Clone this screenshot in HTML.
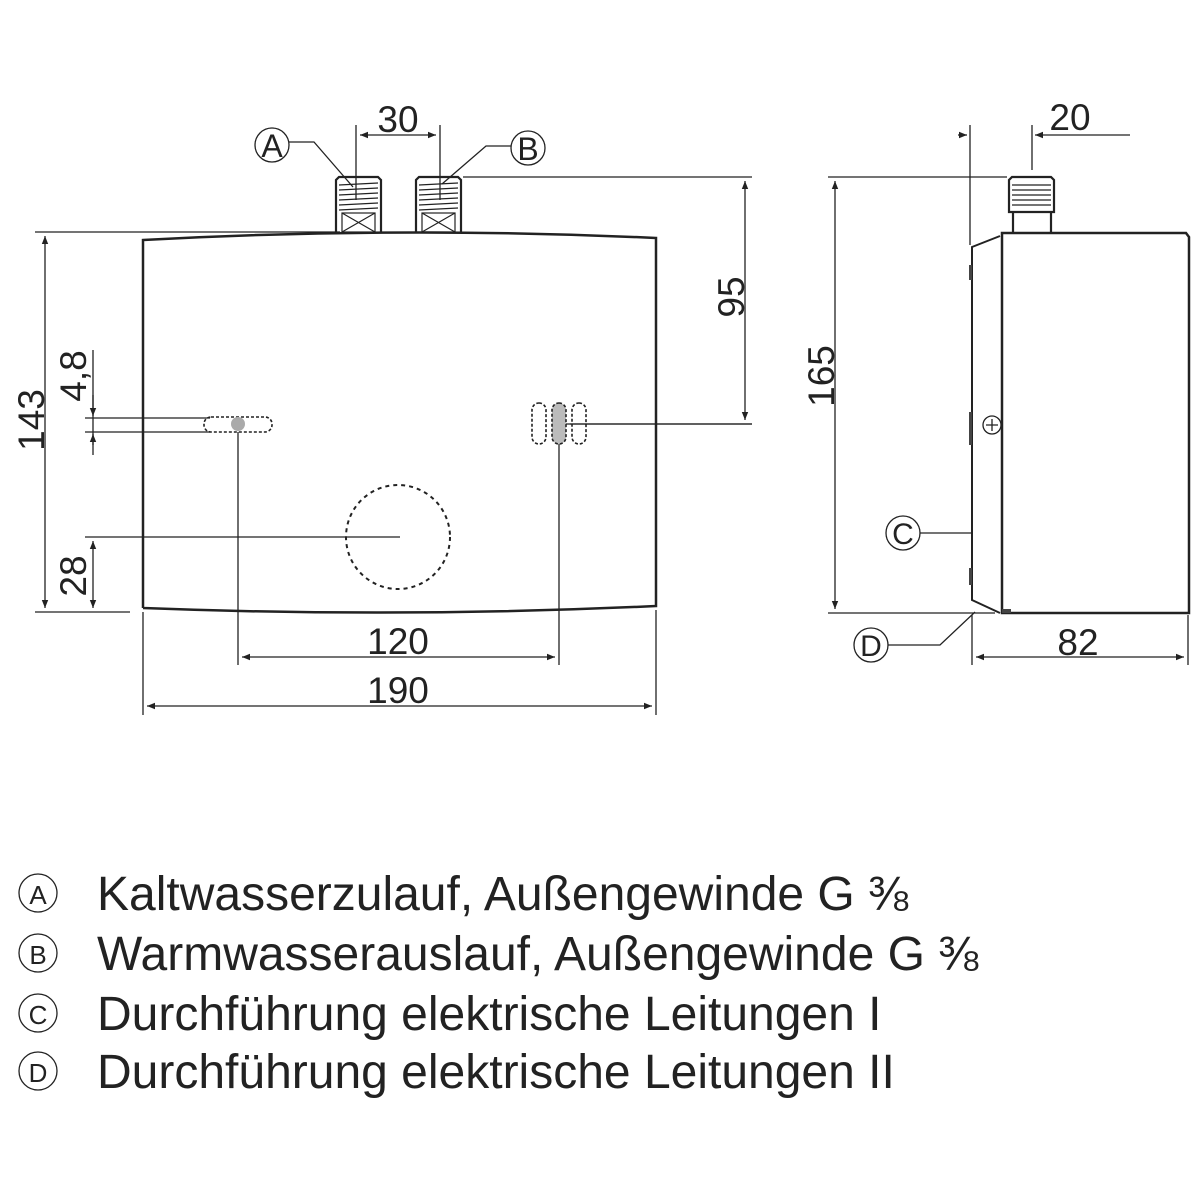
<!DOCTYPE html><html><head><style>body{margin:0;background:#fff}svg{display:block}</style></head><body>
<svg width="1200" height="1200" viewBox="0 0 1200 1200" xmlns="http://www.w3.org/2000/svg" font-family="Liberation Sans, sans-serif">
<defs><marker id="ar" viewBox="0 0 10 10" refX="10" refY="5" markerWidth="12" markerHeight="8" orient="auto-start-reverse" markerUnits="userSpaceOnUse"><path d="M0,1L10,5L0,9z" fill="#222"/></marker></defs>
<g stroke="#222" fill="none" stroke-width="1.3">
<path d="M143,608 L143,240 Q400,226 656,238 L656,606 Q400,618 143,608" stroke-width="2.5"/>
<g stroke-width="2.2"><path d="M336,232V180l3,-3h39l3,3v52"/><path d="M416,232V180l3,-3h39l3,3v52"/></g>
<g stroke-width="1.2"><path d="M339,185l39,-2M339,190l39,-2M339,195l39,-2M339,200l39,-2M339,205l39,-2M339,210l39,-2"/><rect x="342" y="213" width="33" height="19"/><path d="M342,213l33,19M375,213l-33,19"/>
<path d="M419,185l39,-2M419,190l39,-2M419,195l39,-2M419,200l39,-2M419,205l39,-2M419,210l39,-2"/><rect x="422" y="213" width="33" height="19"/><path d="M422,213l33,19M455,213l-33,19"/></g>
<path d="M356,125V200M440,125V200"/><path d="M360,135H436" marker-start="url(#ar)" marker-end="url(#ar)"/>
<circle cx="272" cy="145" r="17"/><path d="M289,142H314L353,187"/>
<circle cx="528" cy="148" r="17"/><path d="M511,146H486L442,184"/>
<path d="M463,177H752M570,424H752"/><path d="M745,181V420" marker-start="url(#ar)" marker-end="url(#ar)"/>
<path d="M35,232H340M35,612H130"/><path d="M45,236V608" marker-start="url(#ar)" marker-end="url(#ar)"/>
<path d="M85,418H210M85,432H210M93,350V445"/><path d="M93,395V416" marker-end="url(#ar)"/><path d="M93,455V434" marker-end="url(#ar)"/>
<path d="M85,537H400"/><path d="M93,541V608" marker-start="url(#ar)" marker-end="url(#ar)"/>
<rect x="204" y="417" width="68" height="15" rx="7" stroke-dasharray="3,2" stroke-width="1.6"/>
<circle cx="238" cy="424" r="7" fill="#aaa" stroke="none"/>
<path d="M238,432V665M559,444V665M566,424H752"/>
<rect x="532" y="403" width="14" height="41" rx="7" stroke-dasharray="3,2" stroke-width="1.6"/>
<rect x="552" y="403" width="14" height="41" rx="7" stroke-dasharray="3,2" stroke-width="1.6" fill="#bbb"/>
<rect x="572" y="403" width="14" height="41" rx="7" stroke-dasharray="3,2" stroke-width="1.6"/>
<circle cx="398" cy="537" r="52" stroke-dasharray="4,4" stroke-width="2"/>
<path d="M242,657H555" marker-start="url(#ar)" marker-end="url(#ar)"/>
<path d="M143,612V715M656,610V715"/>
<path d="M147,706H652" marker-start="url(#ar)" marker-end="url(#ar)"/>
<path d="M1002,233H1186l3,4V613H1002Z" stroke-width="2.5"/>
<path d="M1000,236L972,247V600L1000,613" stroke-width="2"/>
<g stroke-width="2.2"><path d="M1013,233V212M1051,233V212M1009,212V180l3,-3h39l3,3v32z"/></g>
<path d="M1012,185h39M1012,190h39M1012,195h39M1012,200h39M1012,205h39"/>
<circle cx="992" cy="425" r="9"/><path d="M986,425h12M992,419v12"/>
<g fill="#444" stroke="none"><rect x="969" y="265" width="3" height="15"/><rect x="969" y="412" width="3" height="33"/><rect x="969" y="568" width="3" height="17"/><rect x="1002" y="609" width="9" height="4"/></g>
<path d="M970,125V245M1032,125V170"/><path d="M958,135H967" marker-end="url(#ar)"/><path d="M1130,135H1035" marker-end="url(#ar)"/>
<path d="M828,177H1007M828,613H995"/><path d="M835,181V609" marker-start="url(#ar)" marker-end="url(#ar)"/>
<circle cx="903" cy="533" r="17"/><path d="M920,533H972"/>
<circle cx="871" cy="645" r="17"/><path d="M888,645H940L975,612"/>
<path d="M972,615V665M1188,615V665"/><path d="M976,657H1184" marker-start="url(#ar)" marker-end="url(#ar)"/>
<circle cx="38" cy="893" r="19"/><circle cx="38" cy="953" r="19"/><circle cx="38" cy="1013" r="19"/><circle cx="38" cy="1071" r="19"/>
</g>
<g fill="#222" text-anchor="middle">
<text x="398" y="132" font-size="37">30</text>
<text x="272" y="157" font-size="32">A</text><text x="528" y="160" font-size="32">B</text>
<text x="903" y="544" font-size="30">C</text><text x="871" y="656" font-size="30">D</text>
<text x="1070" y="130" font-size="37">20</text>
<text x="398" y="654" font-size="37">120</text>
<text x="398" y="703" font-size="37">190</text>
<text x="1078" y="655" font-size="37">82</text>
<text font-size="37" transform="translate(744,297) rotate(-90)">95</text>
<text font-size="37" transform="translate(44,420) rotate(-90)">143</text>
<text font-size="37" transform="translate(834,376) rotate(-90)">165</text>
<text font-size="37" transform="translate(86,376) rotate(-90)">4,8</text>
<text font-size="37" transform="translate(86,576) rotate(-90)">28</text>
<text x="38" y="904" font-size="26">A</text><text x="38" y="964" font-size="26">B</text><text x="38" y="1024" font-size="26">C</text><text x="38" y="1082" font-size="26">D</text>
</g>
<g fill="#222" font-size="48">
<text x="97" y="910">Kaltwasserzulauf, Außengewinde G ⅜</text>
<text x="97" y="970">Warmwasserauslauf, Außengewinde G ⅜</text>
<text x="97" y="1030">Durchführung elektrische Leitungen I</text>
<text x="97" y="1088">Durchführung elektrische Leitungen II</text>
</g>
</svg></body></html>
